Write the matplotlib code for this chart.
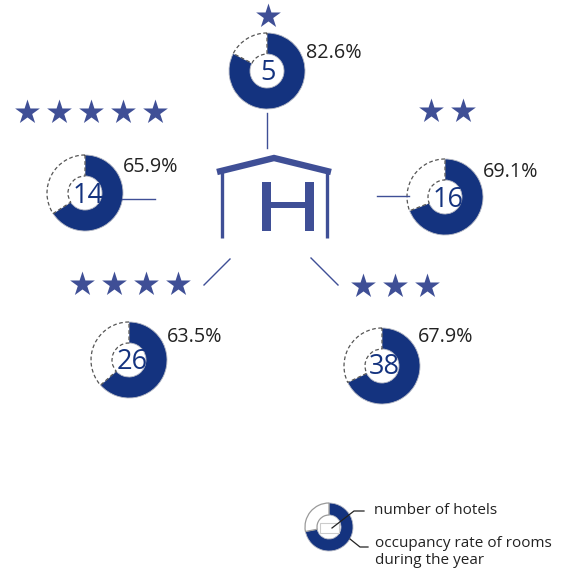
import matplotlib
matplotlib.use("Agg")
import matplotlib.pyplot as plt
from matplotlib.patches import Rectangle

plt.rcParams['font.family'] = ['Open Sans', 'DejaVu Sans']

W, H = 566, 569
NAVY = '#14337f'
BLUE = '#3f4f96'
DARK = '#222222'

hotels = [5, 14, 16, 26, 38]
occupancy = [82.6, 65.9, 69.1, 63.5, 67.9]
star_counts = [1, 5, 2, 4, 3]
legend_share = [72, 28]
legend_labels = ['number of hotels', 'occupancy rate of rooms\nduring the year']

centers = [(267, 71), (85, 193), (445, 197), (129, 360), (382, 366)]
num_pos = [(268, 73), (88, 196), (448, 200), (132, 362), (384, 367)]
pct_pos = [(306, 53), (123, 167), (483, 172), (167, 337), (418, 337)]
star_rows = [(268, 16), (27, 112), (431, 111), (82, 284), (363, 286)]
links = [((267, 113), (267, 148)), ((122, 199), (155, 199)), ((377, 196), (409, 196)),
         ((204, 285), (230, 259)), ((311, 258), (338, 285))]

fig = plt.figure(figsize=(W / 100, H / 100), dpi=100)
ax = fig.add_axes([0, 0, 1, 1])


def Y(py):
    return H - py


def donut(cx, cy, share, r, inner, dashed=True):
    w, _ = ax.pie([share, 100 - share], startangle=90, counterclock=False,
                  center=(cx, Y(cy)), radius=r, frame=True, colors=[NAVY, 'white'],
                  wedgeprops=dict(width=r - inner))
    w[0].set(edgecolor='#b5b8c4', linewidth=0.6)
    if dashed:
        w[1].set(edgecolor='#555555', linewidth=0.9, linestyle=(0, (3, 2)))
    else:
        w[1].set(edgecolor='#9a9a9a', linewidth=0.9)


for n, occ, (cx, cy), (nx, ny), (px, py), (sx, sy), k in zip(hotels, occupancy, centers, num_pos, pct_pos, star_rows, star_counts):
    donut(cx, cy, occ, 38, 17)
    ax.text(nx, Y(ny), str(n), fontsize=19.5, color=NAVY, ha='center', va='center', zorder=5)
    ax.text(px, Y(py), f'{occ}%', fontsize=14.2, color=DARK, ha='left', va='center')
    ax.scatter([sx + 32 * i for i in range(k)], [Y(sy)] * k, marker='*', s=350,
               color=BLUE, linewidths=0, zorder=3)

for (x0, y0), (x1, y1) in links:
    ax.plot([x0, x1], [Y(y0), Y(y1)], color=BLUE, lw=1)

# building
ax.plot([217, 274, 331], [Y(172), Y(158), Y(172)], color=BLUE, lw=4.6, solid_joinstyle='miter', solid_capstyle='butt')
ax.plot([221.7, 221.7], [Y(172), Y(238)], color=BLUE, lw=2.4, solid_capstyle='butt')
ax.plot([326.7, 326.7], [Y(172), Y(238)], color=BLUE, lw=2.4, solid_capstyle='butt')
for x in (261.5, 304.5):
    ax.add_patch(Rectangle((x, Y(231)), 9, 49, color=BLUE, lw=0))
ax.add_patch(Rectangle((262, Y(208)), 51, 6.5, color=BLUE, lw=0))

# legend
donut(329, 527, legend_share[0], 24, 12, dashed=False)
ax.add_patch(Rectangle((320, Y(533)), 19, 10, fc='white', ec='#cccccc', lw=0.8, zorder=4))
ax.plot([332, 354, 364], [Y(528), Y(511), Y(511)], color='#222222', lw=0.9, zorder=6)
ax.plot([350, 360, 368], [Y(539), Y(547), Y(547)], color='#222222', lw=0.9, zorder=6)
ax.text(374, Y(511), legend_labels[0], fontsize=11, color=DARK, ha='left', va='center')
ax.text(375, Y(552), legend_labels[1], fontsize=11, color=DARK, ha='left', va='center', linespacing=1.2)

ax.set_xlim(0, W)
ax.set_ylim(0, H)
ax.set_aspect('auto')
ax.axis('off')
fig.savefig('out.png', dpi=100, facecolor='white')
